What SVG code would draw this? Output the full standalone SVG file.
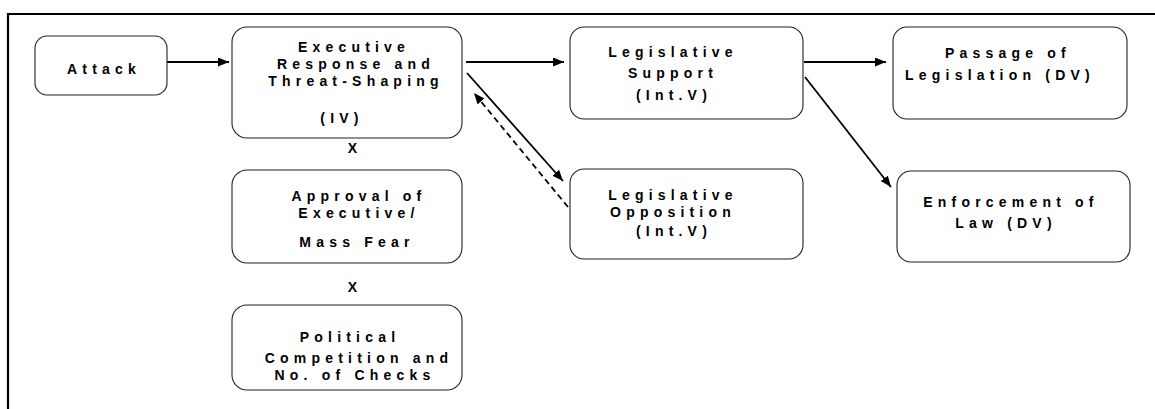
<svg xmlns="http://www.w3.org/2000/svg" width="1155" height="409" viewBox="0 0 1155 409">
<defs>
<marker id="ah" markerUnits="userSpaceOnUse" markerWidth="12" markerHeight="10" refX="11" refY="4.5" orient="auto">
<path d="M0,0 L11,4.5 L0,9 z" fill="#000"/>
</marker>
<style>
.box{fill:#fff;stroke:#222;stroke-width:1.1}
.t{font-family:"Liberation Sans",Arial,sans-serif;font-weight:bold;font-size:14px;letter-spacing:5.2px;text-anchor:middle;fill:#000}
.c{stroke:#000;fill:none;stroke-width:1.8}
</style>
</defs>
<rect width="1155" height="409" fill="#fff"/>
<g id="frame">
<line x1="7" y1="14" x2="1155" y2="14" stroke="#000" stroke-width="2.2"/>
<line x1="8" y1="13" x2="8" y2="409" stroke="#000" stroke-width="2.2"/>
</g>
<g id="connectors">
<line class="c" x1="167" y1="62" x2="229" y2="62" marker-end="url(#ah)"/>
<line class="c" x1="466" y1="62" x2="564" y2="62" marker-end="url(#ah)"/>
<line class="c" x1="804" y1="62" x2="886" y2="62" marker-end="url(#ah)"/>
<line class="c" x1="805" y1="77" x2="891" y2="187" marker-end="url(#ah)"/>
<line class="c" x1="467" y1="73" x2="563" y2="181" stroke-width="2.4" marker-end="url(#ah)"/>
<line class="c" x1="568" y1="207" x2="474" y2="93" stroke-dasharray="6,4" stroke-width="2" marker-end="url(#ah)"/>
</g>
<g id="attack">
<rect class="box" x="35" y="36" width="132" height="59" rx="12"/>
<text class="t" x="104" y="74">Attack</text>
</g>
<g id="executive">
<rect class="box" x="232" y="27" width="230" height="111" rx="15"/>
<text class="t" x="354" y="52">Executive</text>
<text class="t" x="356" y="69">Response and</text>
<text class="t" x="356" y="86">Threat-Shaping</text>
<text class="t" x="342" y="123">(IV)</text>
</g>
<text id="x1" class="t" x="355" y="153">X</text>
<g id="approval">
<rect class="box" x="232" y="170" width="230" height="93" rx="15"/>
<text class="t" x="359" y="201">Approval of</text>
<text class="t" x="359" y="218">Executive/</text>
<text class="t" x="357" y="247">Mass Fear</text>
</g>
<text id="x2" class="t" x="355" y="292">X</text>
<g id="political">
<rect class="box" x="232" y="305" width="230" height="85" rx="15"/>
<text class="t" x="350" y="342">Political</text>
<text class="t" x="359" y="363">Competition and</text>
<text class="t" x="355" y="380">No. of Checks</text>
</g>
<g id="legsupport">
<rect class="box" x="570" y="27" width="233" height="92" rx="14"/>
<text class="t" x="673" y="57">Legislative</text>
<text class="t" x="673" y="78">Support</text>
<text class="t" x="674" y="100">(Int.V)</text>
</g>
<g id="legopposition">
<rect class="box" x="570" y="169" width="233" height="90" rx="14"/>
<text class="t" x="673" y="200">Legislative</text>
<text class="t" x="673" y="217">Opposition</text>
<text class="t" x="674" y="236">(Int.V)</text>
</g>
<g id="passage">
<rect class="box" x="893" y="27" width="234" height="92" rx="14"/>
<text class="t" x="1008" y="58">Passage of</text>
<text class="t" x="1000" y="80">Legislation (DV)</text>
</g>
<g id="enforcement">
<rect class="box" x="897" y="171" width="233" height="91" rx="14"/>
<text class="t" x="1011" y="207">Enforcement of</text>
<text class="t" x="1006" y="228">Law (DV)</text>
</g>
</svg>
